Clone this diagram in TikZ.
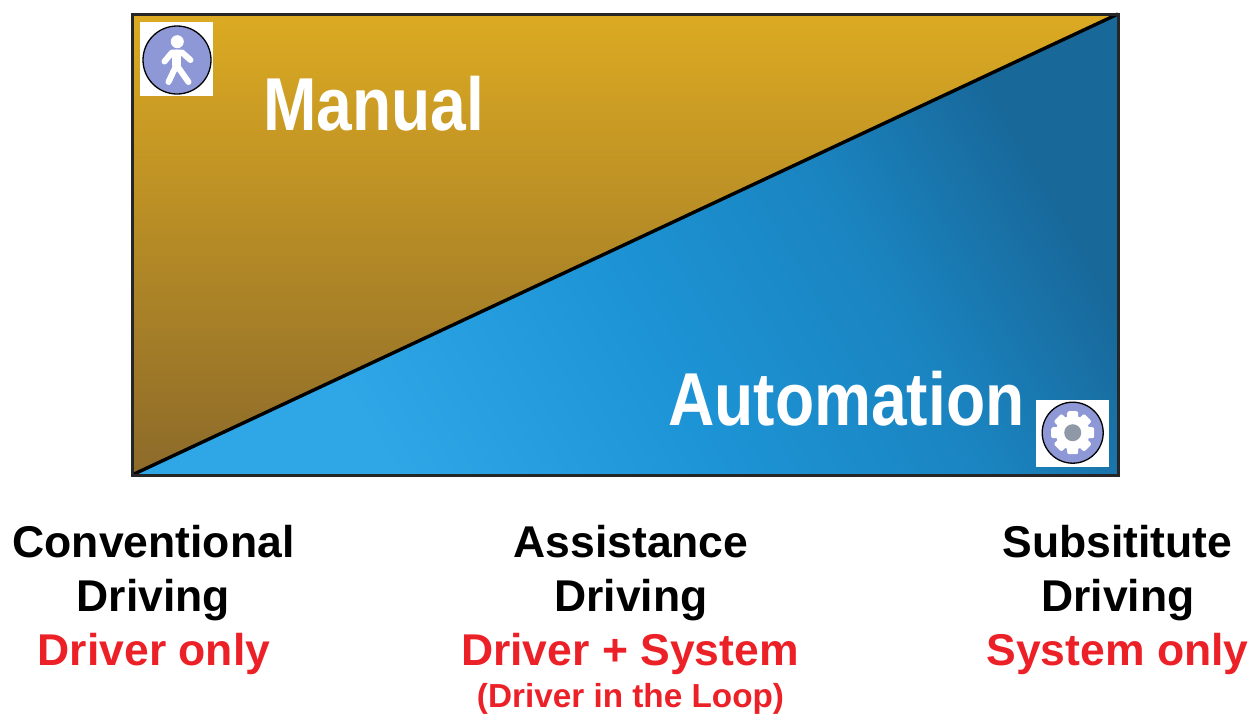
\documentclass[tikz,border=0pt]{standalone}
\usepackage{fontspec}
\setmainfont{Liberation Sans}
\definecolor{goldtop}{HTML}{DCAA22}
\definecolor{goldbot}{HTML}{8C6A2A}
\definecolor{bluelight}{HTML}{2FA6E6}
\definecolor{bluemid}{HTML}{1D94D6}
\definecolor{bluedeep}{HTML}{1A84C0}
\definecolor{bluedark}{HTML}{18689A}
\definecolor{iconfill}{HTML}{8F98D6}
\definecolor{hubgray}{HTML}{8E98A6}
\definecolor{labelred}{HTML}{EC2027}
\pgfdeclareverticalshading{bluegrad}{100bp}{color(0bp)=(bluelight); color(30bp)=(bluelight); color(48bp)=(bluemid); color(63bp)=(bluedeep); color(75bp)=(bluedark); color(100bp)=(bluedark)}
\tikzset{
  big/.style={inner sep=0pt,text=white,font=\bfseries\fontsize{75}{75}\selectfont,xscale=.855,anchor=base west},
  captext/.style={inner sep=0pt,font=\bfseries\fontsize{44.5}{44.5}\selectfont,anchor=base},
  capred/.style={captext,text=labelred},
  capsmall/.style={captext,text=labelred,font=\bfseries\fontsize{33.3}{33.3}\selectfont},
  disc/.style={fill=iconfill,draw=black,line width=1.3pt},
  limb/.style={draw=white,line width=6pt,line cap=round,line join=round}
}
\begin{document}
\begin{tikzpicture}[x=1pt,y=-1pt]
\useasboundingbox (0,0) rectangle (1260,713);
\coordinate (tl) at (132,14);
\coordinate (tr) at (1118,14);
\coordinate (br) at (1118,475);
\coordinate (bl) at (132,475);
\begin{scope}
  \clip (tl) -- (tr) -- (bl) -- cycle;
  \shade[top color=goldtop,bottom color=goldbot] (tl) rectangle (br);
\end{scope}
\begin{scope}
  \clip (tr) -- (br) -- (bl) -- cycle;
  \shade[shading=bluegrad,shading angle=-60] (tl) rectangle (br);
\end{scope}
\draw[line width=3.4pt] (bl) -- (tr);
\draw[line width=3pt,color=black!85] (tl) rectangle (br);
% person icon
\fill[white] (140,22) rectangle (213,96);
\node[circle,disc,minimum size=68pt,inner sep=0pt] (person) at (177,60) {};
\fill[white] (177.3,41.7) circle[radius=6.5];
\draw[limb] (164.5,61.5) -- (172,52.5) -- (182,52.5) -- (190.5,60);
\draw[limb,line width=9pt] (176.5,54) -- (176.5,65);
\draw[limb] (168.5,82) -- (176.5,65) -- (188.5,82);
% gear icon
\fill[white] (1036,400) rectangle (1109,467);
\node[circle,disc,minimum size=61pt,inner sep=0pt] (gear) at (1072.7,432.7) {};
\fill[white] (gear.center) circle[radius=17];
\foreach \a in {0,45,...,315}
  \fill[white,rounded corners=2pt,rotate around={\a:(gear.center)}] (1072.7,427.2) rectangle (1094.2,438.2);
\fill[hubgray] (gear.center) circle[radius=8.5];
% labels
\node[big] (manual) at (263,130) {Manual};
\node[big] (automation) at (668,425) {Automation};
\node[captext] (c1) at (153.5,557.5) {Conventional};
\node[captext] (c2) at (153.5,611.5) {Driving};
\node[capred] (c3) at (154,665.5) {Driver only};
\node[captext] (a1) at (631,557.5) {Assistance};
\node[captext] (a2) at (631,611.5) {Driving};
\node[capred] (a3) at (630,665.5) {Driver + System};
\node[capsmall] (a4) at (630.5,707) {(Driver in the Loop)};
\node[captext] (s1) at (1117.5,557.5) {Subsititute};
\node[captext] (s2) at (1118,611.5) {Driving};
\node[capred] (s3) at (1117.5,665.5) {System only};
\end{tikzpicture}
\end{document}
